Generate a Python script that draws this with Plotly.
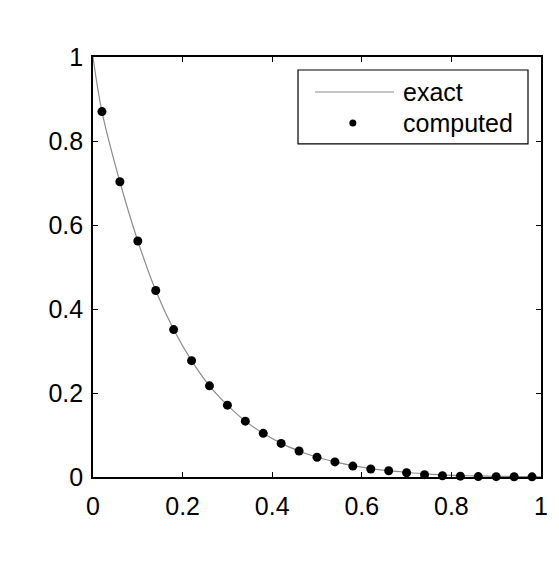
import plotly.graph_objects as go

# Data
x_exact = [0.0, 0.02, 0.06, 0.10, 0.14, 0.18, 0.22, 0.26, 0.30, 0.34, 0.38, 0.42, 0.46,
           0.50, 0.54, 0.58, 0.62, 0.66, 0.70, 0.74, 0.78, 0.82, 0.86, 0.90, 0.94, 0.98, 1.0]
y_exact = [1.0, 0.87, 0.703, 0.562, 0.444, 0.351, 0.277, 0.217, 0.171, 0.133, 0.104, 0.080, 0.062,
           0.047, 0.036, 0.027, 0.020, 0.015, 0.011, 0.0075, 0.005, 0.0035, 0.0025, 0.0017, 0.0012, 0.0008, 0.0006]

x_comp = [0.02, 0.06, 0.10, 0.14, 0.18, 0.22, 0.26, 0.30, 0.34, 0.38, 0.42, 0.46,
          0.50, 0.54, 0.58, 0.62, 0.66, 0.70, 0.74, 0.78, 0.82, 0.86, 0.90, 0.94, 0.98]
y_comp = [0.87, 0.703, 0.562, 0.444, 0.351, 0.277, 0.217, 0.171, 0.133, 0.104, 0.080, 0.062,
          0.047, 0.036, 0.026, 0.019, 0.015, 0.010, 0.0055, 0.003, 0.002, 0.001, 0.0008, 0.0005, 0.0004]

tick_vals = [0, 0.2, 0.4, 0.6, 0.8, 1]
tick_text = ["0", "0.2", "0.4", "0.6", "0.8", "1"]
legend_labels = ["exact", "computed"]

FONT = "Liberation Sans, Arial, Helvetica, sans-serif"
FS = 25

fig = go.Figure()
fig.add_trace(go.Scatter(x=x_exact, y=y_exact, mode="lines", name=legend_labels[0],
                         line=dict(color="#8c8c8c", width=1.2, shape="spline"),
                         showlegend=False))
fig.add_trace(go.Scatter(x=x_comp, y=y_comp, mode="markers", name=legend_labels[1],
                         marker=dict(color="black", size=9), showlegend=False, cliponaxis=False))

axis_common = dict(range=[0, 1], tickvals=tick_vals, ticktext=tick_text,
                   showline=True, mirror="ticks", linecolor="black", linewidth=1.6,
                   ticks="inside", ticklen=5, tickwidth=1, tickcolor="black",
                   showgrid=False, zeroline=False,
                   tickfont=dict(family=FONT, size=FS, color="black"))

fig.update_layout(
    width=559, height=563,
    margin=dict(l=93, r=18, t=57, b=86),
    paper_bgcolor="white", plot_bgcolor="white",
    xaxis=dict(**axis_common, ticklabelstandoff=6),
    yaxis=dict(**axis_common, ticklabelstandoff=3),
    font=dict(family=FONT, size=FS, color="black"),
)

# Manual legend (MATLAB style)
fig.add_shape(type="rect", xref="paper", yref="paper", x0=0.4576, x1=0.971, y0=0.793, y1=0.969,
              line=dict(color="black", width=1.2), fillcolor="white", layer="above")
fig.add_shape(type="line", xref="paper", yref="paper", x0=0.4955, x1=0.672, y0=0.9167, y1=0.9167,
              line=dict(color="#8c8c8c", width=1.2), layer="above")
fig.add_shape(type="circle", xref="paper", yref="paper", xsizemode="pixel", ysizemode="pixel",
              xanchor=0.580, yanchor=0.843, x0=-3.5, x1=3.5, y0=-3.5, y1=3.5,
              fillcolor="black", line=dict(color="black", width=0), layer="above")
fig.add_annotation(xref="paper", yref="paper", x=0.688, y=0.9167, text=legend_labels[0],
                   showarrow=False, xanchor="left", yanchor="middle",
                   font=dict(family=FONT, size=FS, color="black"))
fig.add_annotation(xref="paper", yref="paper", x=0.688, y=0.843, text=legend_labels[1],
                   showarrow=False, xanchor="left", yanchor="middle",
                   font=dict(family=FONT, size=FS, color="black"))

fig.write_html("out.html")
